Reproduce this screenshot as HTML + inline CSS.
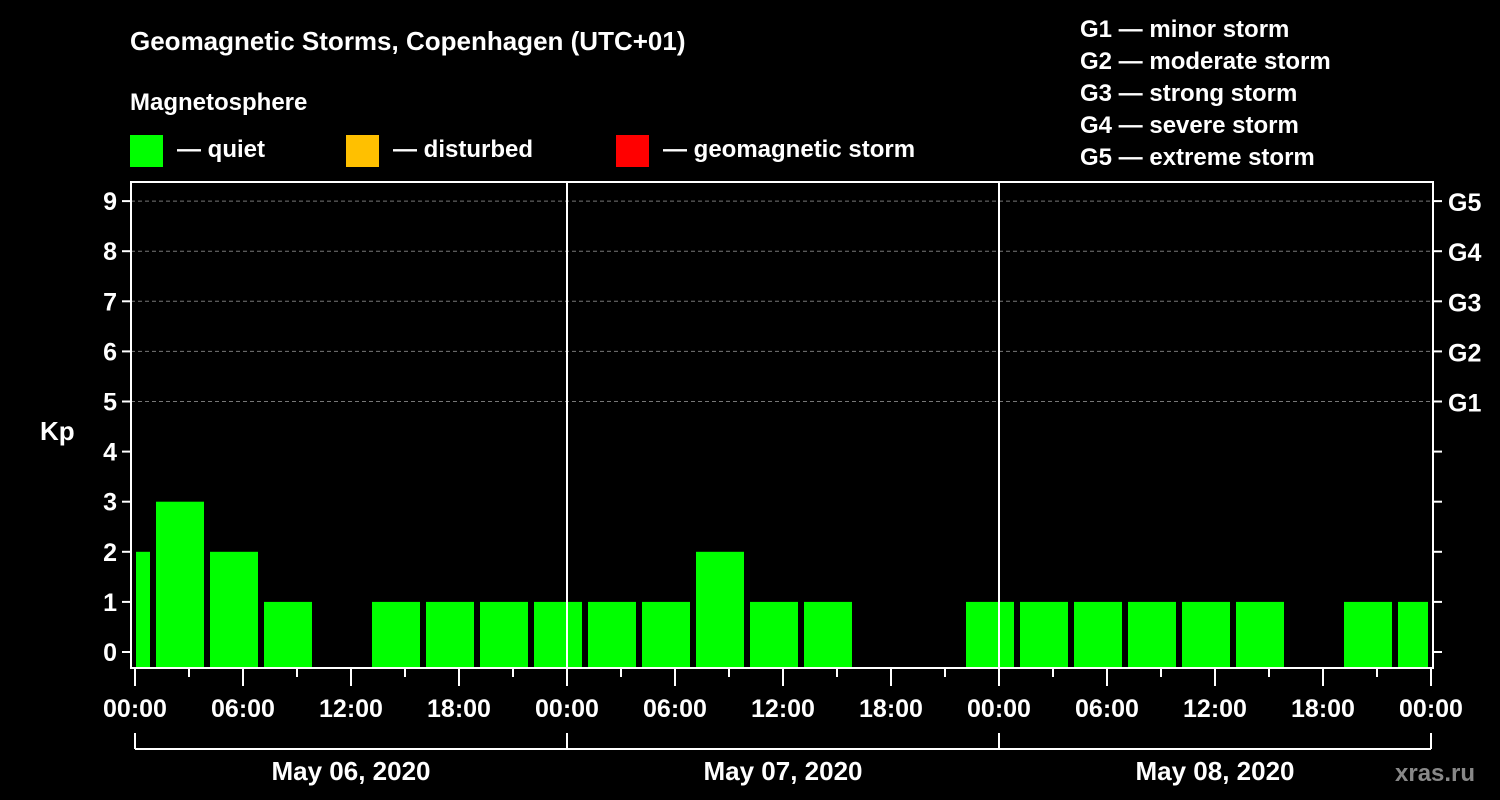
<!DOCTYPE html>
<html><head><meta charset="utf-8"><style>
body{margin:0;background:#000;width:1500px;height:800px;overflow:hidden}
svg{display:block;font-family:"Liberation Sans",Arial,sans-serif;font-weight:bold;fill:#fff}
</style></head><body>
<svg id="c" width="1500" height="800">
<text x="130" y="50" font-size="26">Geomagnetic Storms, Copenhagen (UTC+01)</text>
<text x="130" y="110" font-size="24">Magnetosphere</text>
<g>
<rect x="130" y="135" width="33" height="32" fill="#00ff00"/>
<text x="177" y="157" font-size="24">— quiet</text>
<rect x="346" y="135" width="33" height="32" fill="#ffc000"/>
<text x="393" y="157" font-size="24">— disturbed</text>
<rect x="616" y="135" width="33" height="32" fill="#ff0000"/>
<text x="663" y="157" font-size="24">— geomagnetic storm</text>
</g>
<g font-size="24">
<text x="1080" y="37">G1 — minor storm</text>
<text x="1080" y="69">G2 — moderate storm</text>
<text x="1080" y="101">G3 — strong storm</text>
<text x="1080" y="133">G4 — severe storm</text>
<text x="1080" y="165">G5 — extreme storm</text>
</g>
<text x="40" y="440" font-size="26">Kp</text>
<text x="1395" y="781" font-size="24" fill="#888" style="fill:#888">xras.ru</text>
<g id="grid"></g><g id="bars"></g><g id="axes"></g>
</svg>
<script>
const kpValues=[2,3,2,1,0,1,1,1,1, 1,1,2,1,1,0,0,1, 1,1,1,1,1,0,1,1];
const barCenterHours=[-0.5,2.5,5.5,8.5,11.5,14.5,17.5,20.5,23.5,26.5,29.5,32.5,35.5,38.5,41.5,44.5,47.5,50.5,53.5,56.5,59.5,62.5,65.5,68.5,71.5];
const yTicks=[0,1,2,3,4,5,6,7,8,9];
const gLabels=["G1","G2","G3","G4","G5"];
const xTickLabels=["00:00","06:00","12:00","18:00","00:00","06:00","12:00","18:00","00:00","06:00","12:00","18:00","00:00"];
const dayLabels=["May 06, 2020","May 07, 2020","May 08, 2020"];
const NS="http://www.w3.org/2000/svg";
const X=h=>135+h*18, Y=v=>652-v*50.1;
function mk(p,t,a){const e=document.createElementNS(NS,t);for(const k in a)e.setAttribute(k,a[k]);p.appendChild(e);return e;}
const grid=document.getElementById('grid'),bars=document.getElementById('bars'),axes=document.getElementById('axes');
for(let v=5;v<=9;v++){const l=mk(grid,'line',{x1:131,x2:1433,y1:Y(v),y2:Y(v),stroke:'#777','stroke-dasharray':'4,3'});

}
kpValues.forEach((v,i)=>{if(v<=0)return;const c=X(barCenterHours[i]);const x0=Math.max(136,c-24),x1=Math.min(1428,c+24);
const r=mk(bars,'rect',{x:x0,y:Y(v),width:x1-x0,height:667-Y(v),fill:v>=5?'#ff0000':(v>=4?'#ffc000':'#00ff00')});

});
mk(axes,'rect',{x:131,y:182,width:1302,height:486,fill:'none',stroke:'#fff','stroke-width':2});
[24,48].forEach(h=>mk(axes,'line',{x1:X(h),x2:X(h),y1:182,y2:668,stroke:'#fff','stroke-width':2}));
yTicks.forEach(v=>{mk(axes,'line',{x1:122,x2:131,y1:Y(v),y2:Y(v),stroke:'#fff','stroke-width':2});
mk(axes,'line',{x1:1433,x2:1442,y1:Y(v),y2:Y(v),stroke:'#fff','stroke-width':2});
const t=mk(axes,'text',{x:117,y:Y(v)+9,'font-size':25,'text-anchor':'end'});t.textContent=v;

});
gLabels.forEach((g,i)=>{const t=mk(axes,'text',{x:1448,y:Y(5+i)+10,'font-size':25});t.textContent=g;

});
for(let h=0;h<=72;h+=3){const major=h%6==0;mk(axes,'line',{x1:X(h),x2:X(h),y1:669,y2:major?686:677,stroke:'#fff','stroke-width':2});}
xTickLabels.forEach((s,i)=>{const t=mk(axes,'text',{x:X(i*6),y:717,'font-size':25,'text-anchor':'middle'});t.textContent=s;

});
mk(axes,'line',{x1:X(0),x2:X(72),y1:749,y2:749,stroke:'#fff','stroke-width':2});
[0,24,48,72].forEach(h=>mk(axes,'line',{x1:X(h),x2:X(h),y1:733,y2:749,stroke:'#fff','stroke-width':2}));
dayLabels.forEach((s,i)=>{const t=mk(axes,'text',{x:X(i*24+12),y:780,'font-size':26,'text-anchor':'middle'});t.textContent=s;

});
</script>
</body></html>
